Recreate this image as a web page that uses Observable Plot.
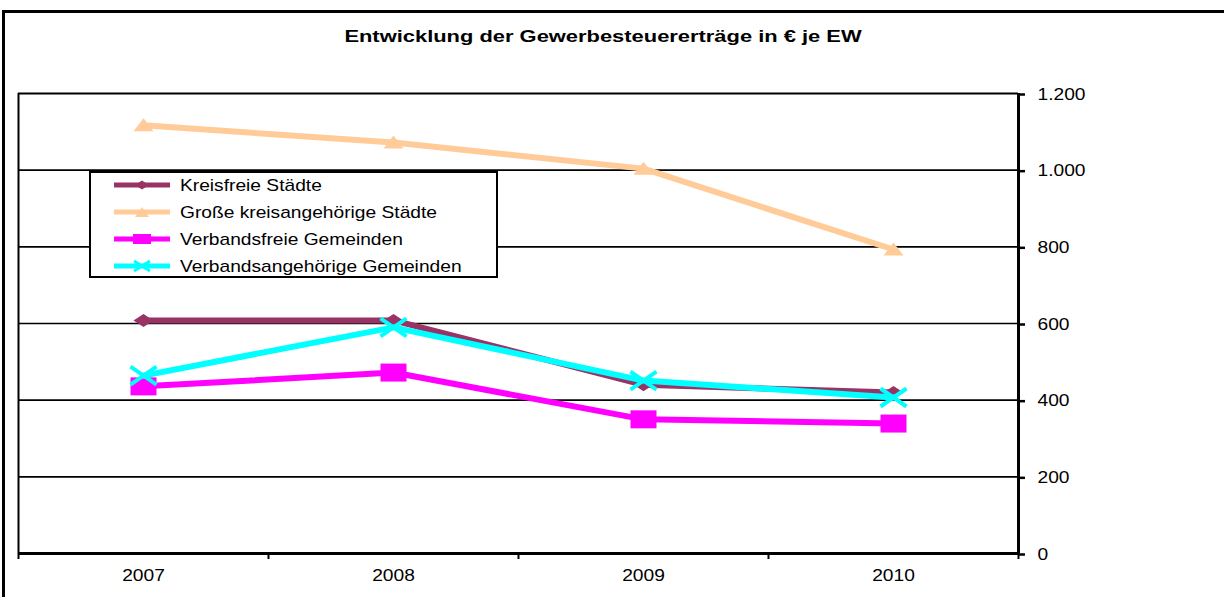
<!DOCTYPE html>
<html>
<head>
<meta charset="utf-8">
<script src="https://cdn.jsdelivr.net/npm/d3@7"></script>
<script src="https://cdn.jsdelivr.net/npm/@observablehq/plot@0.6"></script>
<style>
  html, body { margin: 0; padding: 0; background: #fff; overflow: hidden; }
  body { width: 1224px; height: 597px; position: relative; font-family: "Liberation Sans", Arial, sans-serif; }
  #frame { position: absolute; left: 2px; top: 10px; width: 1400px; height: 800px; border: 3px solid #000; box-sizing: border-box; }
  #title { position: absolute; left: 0; top: 0; width: 1224px; height: 60px; }
  #chart { position: absolute; left: 0; top: 60px; }
  #legend { position: absolute; left: 89px; top: 171px; width: 409px; height: 107px; box-sizing: border-box; border: 2px solid #000; background: #fff; }
</style>
</head>
<body>
<div id="frame"></div>
<div id="title"></div>
<div id="chart"></div>
<div id="legend"></div>
<script>
// ---- data ----
const titleText = "Entwicklung der Gewerbesteuererträge in € je EW";
const years = [2007, 2008, 2009, 2010];
const seriesNames = ["Kreisfreie Städte", "Große kreisangehörige Städte", "Verbandsfreie Gemeinden", "Verbandsangehörige Gemeinden"];
const kreisfreie = [608, 608, 440, 420];
const grosse = [1117, 1072, 1004, 793];
const verbandsfreie = [436, 472, 350, 339];
const verbandsangehoerige = [464, 590, 451, 407];
const seriesColors = ["#993366", "#FFCC99", "#FF00FF", "#00FFFF"];
const yTicks = [0, 200, 400, 600, 800, 1000, 1200];

const seriesValues = [kreisfreie, grosse, verbandsfreie, verbandsangehoerige];
const table = [];
seriesNames.forEach((s, i) => years.forEach((y, j) => table.push({series: s, year: y, value: seriesValues[i][j]})));

const de = d3.formatLocale({decimal: ",", thousands: ".", grouping: [3], currency: ["", " €"]});
const fmt = de.format(",");

// custom marker shapes (wide, as in the original)
const diamondSym = {draw(c) { c.moveTo(-10, 0); c.lineTo(0, -6.5); c.lineTo(10, 0); c.lineTo(0, 6.5); c.closePath(); }};
const triangleSym = {draw(c) { c.moveTo(-10, 6); c.lineTo(0, -7); c.lineTo(10, 6); c.closePath(); }};
const squareSym = {draw(c) { c.moveTo(-13, -9); c.lineTo(13, -9); c.lineTo(13, 9); c.lineTo(-13, 9); c.closePath(); }};
const timesSym = {draw(c) { c.moveTo(-13, -9); c.lineTo(13, 9); c.moveTo(-13, 9); c.lineTo(13, -9); }};
const syms = [diamondSym, triangleSym, squareSym, timesSym];
const filled = [true, true, true, false];
const order = [1, 0, 2, 3];

const marks = [
  Plot.ruleY(yTicks.filter(d => d > 0 && d < 1200), {stroke: "#000", strokeWidth: 1.6}),
  Plot.ruleY([1200], {stroke: "#000", strokeWidth: 2}),
  Plot.ruleX([2006.5], {stroke: "#000", strokeWidth: 2}),
  Plot.axisY({anchor: "right", ticks: yTicks, tickFormat: fmt, tickSize: 6, tickPadding: 13, fontSize: 16, strokeWidth: 2.5, dy: 1, label: null}),
  Plot.axisX({ticks: [2006.5, 2007.5, 2008.5, 2009.5, 2010.5], tickFormat: () => "", tickSize: 6, strokeWidth: 2, label: null}),
  Plot.axisX({ticks: years, tickFormat: d => String(d), tickSize: 0, tickPadding: 16, fontSize: 16, label: null})
];
order.forEach(i => {
  const data = table.filter(d => d.series === seriesNames[i]);
  marks.push(Plot.line(data, {x: "year", y: "value", stroke: seriesColors[i], strokeWidth: 6}));
  marks.push(Plot.dot(data, {x: "year", y: "value", r: 6, symbol: () => syms[i],
    fill: filled[i] ? seriesColors[i] : "none", stroke: filled[i] ? "none" : seriesColors[i], strokeWidth: filled[i] ? 0 : 4}));
});
marks.push(Plot.ruleX([2010.5], {stroke: "#000", strokeWidth: 3}));
marks.push(Plot.ruleY([0], {stroke: "#000", strokeWidth: 3}));

const chart = Plot.plot({
  width: 1224,
  height: 537,
  marginLeft: 18,
  marginRight: 206,
  marginTop: 33,
  marginBottom: 44,
  style: {fontFamily: "'Liberation Sans', Arial, sans-serif", color: "#000", background: "transparent", overflow: "visible"},
  x: {type: "linear", domain: [2006.5, 2010.5], axis: null, label: null},
  y: {domain: [0, 1200], axis: null, label: null},
  marks
});
document.getElementById("chart").appendChild(chart);

// widen text horizontally like the original rendering
const SX = 1.2;
chart.querySelectorAll("text").forEach(t => {
  const x = t.getAttribute("x");
  if (x != null) t.setAttribute("x", +x / SX);
  const tr = t.getAttribute("transform") || "";
  t.setAttribute("transform", tr + ` scale(${SX},1)`);
  t.setAttribute("fill", "#000");
});

// title
const tsvg = d3.select("#title").append("svg").attr("width", 1224).attr("height", 60);
tsvg.append("text").attr("transform", "translate(603,42) scale(1.37,1)")
  .attr("text-anchor", "middle").attr("font-weight", "bold").attr("font-size", 16)
  .attr("font-family", "'Liberation Sans', Arial, sans-serif").text(titleText);

// legend
const lsvg = d3.select("#legend").append("svg").attr("width", 405).attr("height", 103);
seriesNames.forEach((s, i) => {
  const cy = 12 + i * 27;
  const g = lsvg.append("g");
  g.append("line").attr("x1", 23).attr("x2", 79).attr("y1", cy).attr("y2", cy)
    .attr("stroke", seriesColors[i]).attr("stroke-width", 5);
  const p = d3.path();
  const small = {0: [7, 4.5], 1: [7, 5], 2: [9, 5], 3: [8, 5]}[i];
  if (i === 0) { p.moveTo(-small[0], 0); p.lineTo(0, -small[1]); p.lineTo(small[0], 0); p.lineTo(0, small[1]); p.closePath(); }
  if (i === 1) { p.moveTo(-small[0], small[1]); p.lineTo(0, -small[1]); p.lineTo(small[0], small[1]); p.closePath(); }
  if (i === 2) { p.rect(-small[0], -small[1], 2 * small[0], 2 * small[1]); }
  if (i === 3) { p.moveTo(-small[0], -small[1]); p.lineTo(small[0], small[1]); p.moveTo(-small[0], small[1]); p.lineTo(small[0], -small[1]); }
  g.append("path").attr("d", p.toString()).attr("transform", `translate(51,${cy})`)
    .attr("fill", filled[i] ? seriesColors[i] : "none")
    .attr("stroke", filled[i] ? "none" : seriesColors[i]).attr("stroke-width", 3);
  g.append("text").attr("transform", `translate(89,${cy + 6}) scale(1.2,1)`)
    .attr("font-size", 16).attr("font-family", "'Liberation Sans', Arial, sans-serif").text(s);
});
</script>
</body>
</html>
